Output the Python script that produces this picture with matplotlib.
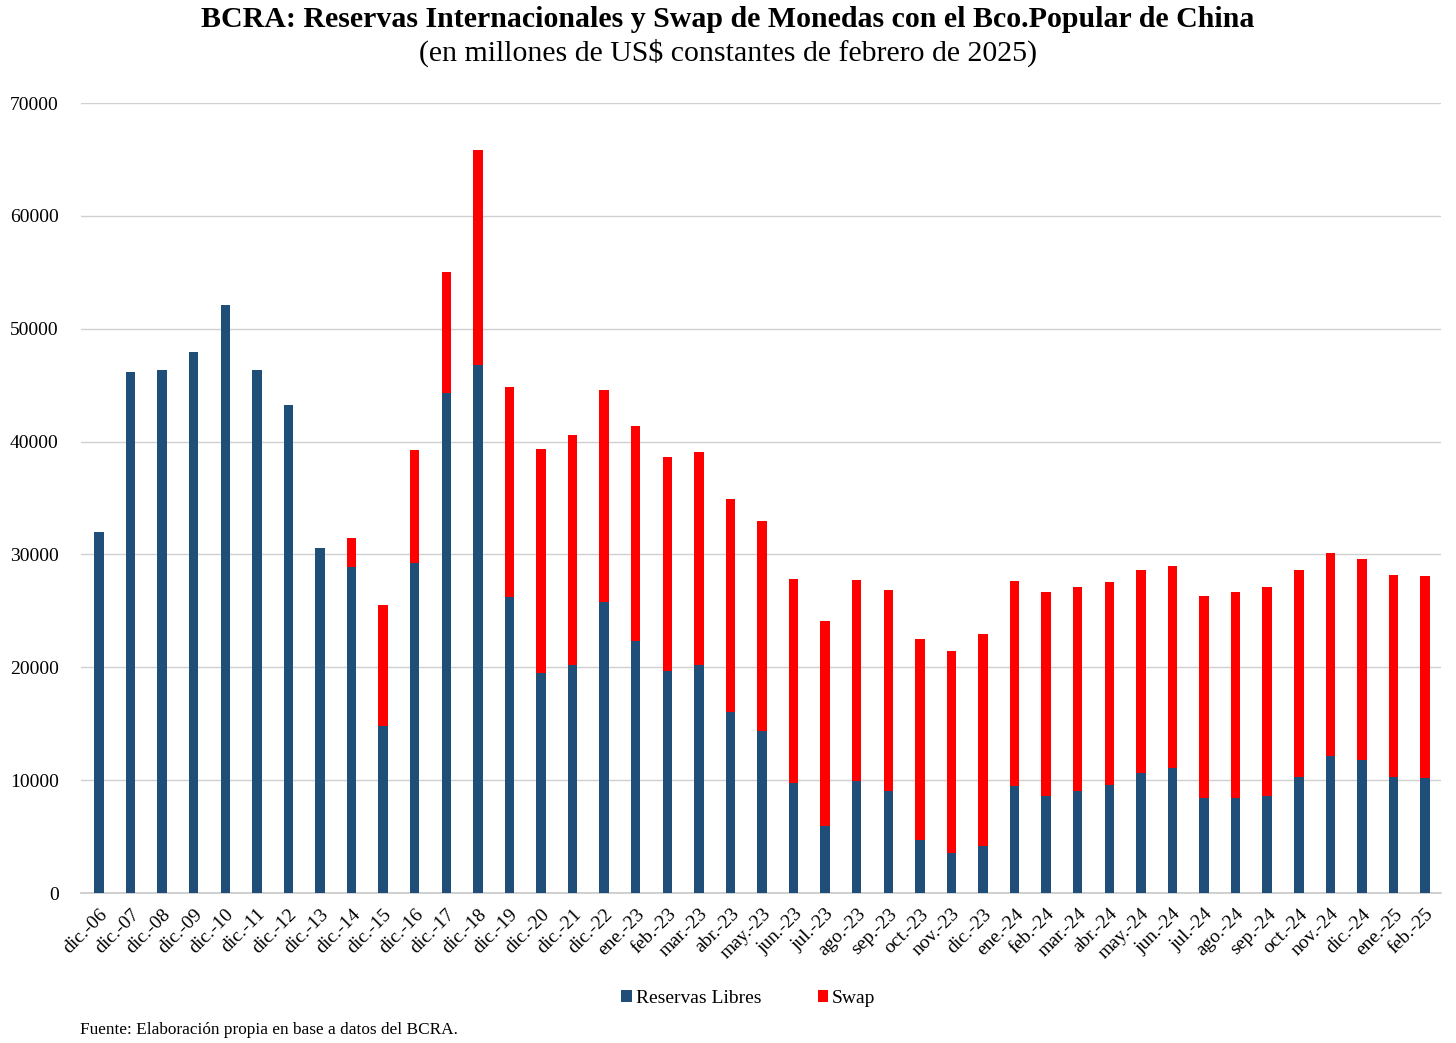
import matplotlib
matplotlib.use("Agg")
import matplotlib.pyplot as plt
import numpy as np

categories = ["dic.-06", "dic.-07", "dic.-08", "dic.-09", "dic.-10", "dic.-11", "dic.-12",
              "dic.-13", "dic.-14", "dic.-15", "dic.-16", "dic.-17", "dic.-18", "dic.-19",
              "dic.-20", "dic.-21", "dic.-22", "ene.-23", "feb.-23", "mar.-23", "abr.-23",
              "may.-23", "jun.-23", "jul.-23", "ago.-23", "sep.-23", "oct.-23", "nov.-23",
              "dic.-23", "ene.-24", "feb.-24", "mar.-24", "abr.-24", "may.-24", "jun.-24",
              "jul.-24", "ago.-24", "sep.-24", "oct.-24", "nov.-24", "dic.-24", "ene.-25",
              "feb.-25"]

reservas_libres = [32000, 46150, 46360, 47950, 52120, 46360, 43250,
                   30590, 28880, 14760, 29230, 44290, 46800, 26210,
                   19480, 20190, 25760, 22320, 19650, 20190, 16070,
                   14360, 9730, 5960, 9890, 9080, 4730, 3510,
                   4130, 9510, 8630, 9040, 9570, 10610, 11080,
                   8450, 8450, 8600, 10310, 12170, 11820, 10310,
                   10220]

totales = [32000, 46150, 46360, 47950, 52120, 46360, 43250,
           30590, 31420, 25560, 39300, 55050, 65800, 44800,
           39380, 40620, 44600, 41380, 38680, 39070, 34950,
           32950, 27860, 24060, 27760, 26890, 22480, 21450,
           22990, 27620, 26680, 27120, 27560, 28600, 28980,
           26320, 26680, 27120, 28600, 30160, 29570, 28210,
           28060]

swap = [t - r for t, r in zip(totales, reservas_libres)]

y_ticks = [0, 10000, 20000, 30000, 40000, 50000, 60000, 70000]

plt.rcParams['font.family'] = ['Liberation Serif', 'DejaVu Serif']

fig = plt.figure(figsize=(14.56, 10.43), dpi=100)
ax = fig.add_axes([0.0556, 0.1438, 0.934, 0.7574])

x = np.arange(len(categories))
blue = "#1F4E79"
red = "#FF0000"
ax.bar(x, reservas_libres, width=0.3, color=blue, label="Reservas Libres", zorder=3)
ax.bar(x, swap, width=0.3, bottom=reservas_libres, color=red, label="Swap", zorder=3)

ax.set_ylim(0, 70000)
ax.set_xlim(-0.57, 42.5)
ax.set_yticks(y_ticks)
ax.set_yticklabels([str(v) for v in y_ticks], fontsize=14)
ax.yaxis.grid(True, color="#d0d0d0", linewidth=1.0, zorder=0)
ax.set_axisbelow(True)
ax.tick_params(axis='y', length=0, pad=16)
ax.tick_params(axis='x', length=0, pad=9)
ax.set_xticks(x)
ax.set_xticklabels(categories, rotation=45, ha='right', rotation_mode='anchor', fontsize=14)
for s in ["top", "right", "left"]:
    ax.spines[s].set_visible(False)
ax.spines["bottom"].set_color("#c8c8c8")
ax.spines["bottom"].set_linewidth(1.2)

fig.text(0.5, 0.981, "BCRA: Reservas Internacionales y Swap de Monedas con el Bco.Popular de China",
         ha='center', va='center', fontsize=21.5, fontweight='bold')
fig.text(0.5, 0.949, "(en millones de US$ constantes de febrero de 2025)",
         ha='center', va='center', fontsize=21.5)

leg = fig.legend(loc='center', bbox_to_anchor=(0.514, 0.043), ncol=2, frameon=False,
                 fontsize=14, handlelength=0.55, handleheight=0.55, handletextpad=0.2,
                 columnspacing=2.9)

fig.text(0.055, 0.012, "Fuente: Elaboración propia en base a datos del BCRA.",
         ha='left', va='center', fontsize=12.4)

fig.savefig("out.png", dpi=100)
